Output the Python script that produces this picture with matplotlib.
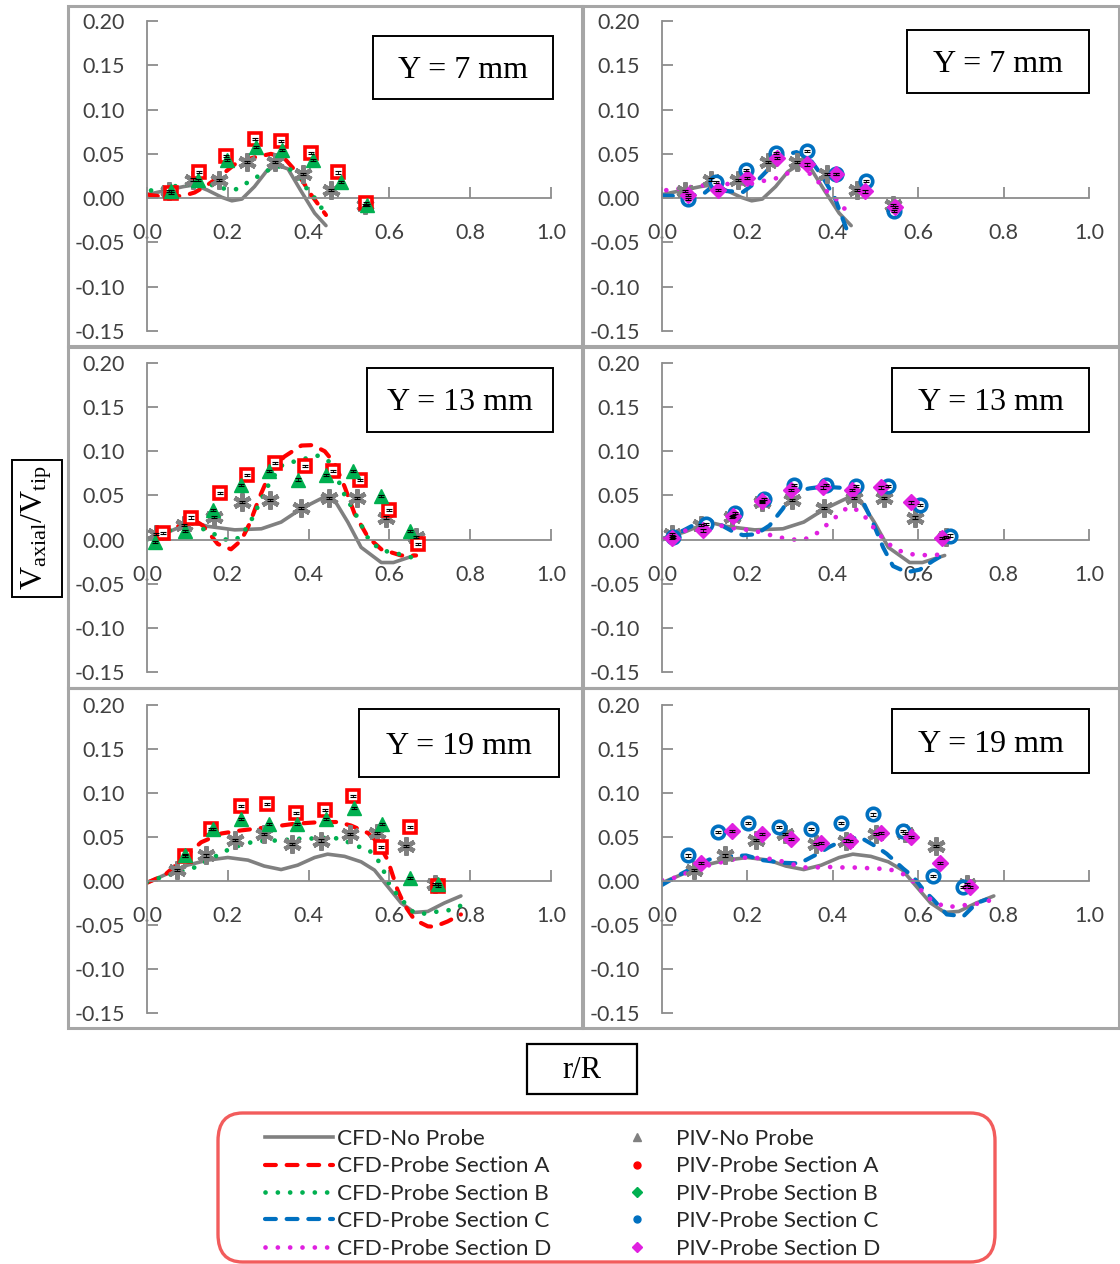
import matplotlib
matplotlib.use("Agg")
import matplotlib.pyplot as plt
from matplotlib.lines import Line2D
from matplotlib.patches import Rectangle, FancyBboxPatch

plt.rcParams['font.family'] = ['Lato', 'DejaVu Sans']
plt.rcParams['mathtext.fontset'] = 'custom'
plt.rcParams['mathtext.rm'] = 'Liberation Serif'
plt.rcParams['mathtext.it'] = 'Liberation Serif:italic'

# ---------------- data: r/R and V_axial/V_tip ----------------
# Y = 7 mm
Y7_CFD_NP_R = [0.0, 0.05, 0.09, 0.118, 0.15, 0.185, 0.21, 0.235, 0.266, 0.295, 0.32, 0.349, 0.38, 0.415, 0.443]
Y7_CFD_NP_V = [0.004, 0.009, 0.013, 0.015, 0.009, 0.001, -0.003, -0.001, 0.013, 0.030, 0.0376, 0.033, 0.009, -0.017, -0.031]
Y7_CFD_A_R = [0.0, 0.05, 0.093, 0.118, 0.15, 0.184, 0.225, 0.266, 0.307, 0.34, 0.373, 0.406, 0.443]
Y7_CFD_A_V = [0.004, 0.001, 0.003, 0.0064, 0.015, 0.026, 0.041, 0.046, 0.050, 0.045, 0.028, 0.004, -0.019]
Y7_CFD_B_R = [0.01, 0.05, 0.089, 0.126, 0.159, 0.188, 0.22, 0.254, 0.287, 0.316, 0.349, 0.373, 0.398, 0.423, 0.443]
Y7_CFD_B_V = [0.0087, 0.012, 0.015, 0.017, 0.015, 0.011, 0.010, 0.019, 0.028, 0.036, 0.035, 0.024, 0.0094, -0.004, -0.020]
Y7_CFD_C_R = [0.0, 0.06, 0.10, 0.125, 0.15, 0.19, 0.22, 0.25, 0.28, 0.315, 0.345, 0.375, 0.405, 0.44]
Y7_CFD_C_V = [0.003, 0.002, 0.006, 0.016, 0.008, 0.007, 0.018, 0.033, 0.048, 0.052, 0.045, 0.025, 0.0, -0.045]
Y7_CFD_D_R = [0.01, 0.06, 0.12, 0.17, 0.20, 0.23, 0.26, 0.29, 0.315, 0.34, 0.36, 0.38, 0.41, 0.44]
Y7_CFD_D_V = [0.009, 0.012, 0.016, 0.016, 0.015, 0.019, 0.021, 0.027, 0.033, 0.030, 0.022, 0.010, -0.002, -0.019]

Y7_PIV_NP_R = [0.055, 0.115, 0.177, 0.248, 0.316, 0.386, 0.456, 0.54]
Y7_PIV_NP_V = [0.008, 0.021, 0.020, 0.041, 0.041, 0.027, 0.009, -0.008]
Y7_PIV_A_R = [0.06, 0.128, 0.196, 0.268, 0.332, 0.405, 0.472, 0.542]
Y7_PIV_A_V = [0.006, 0.030, 0.048, 0.067, 0.065, 0.051, 0.029, -0.006]
Y7_PIV_B_R = [0.06, 0.125, 0.197, 0.27, 0.335, 0.41, 0.48, 0.545]
Y7_PIV_B_V = [0.008, 0.020, 0.043, 0.058, 0.054, 0.043, 0.018, -0.0075]
Y7_PIV_C_R = [0.06, 0.126, 0.197, 0.267, 0.339, 0.407, 0.478, 0.544]
Y7_PIV_C_V = [-0.001, 0.018, 0.032, 0.051, 0.053, 0.027, 0.0196, -0.015]
Y7_PIV_D_R = [0.06, 0.13, 0.199, 0.269, 0.34, 0.407, 0.476, 0.546]
Y7_PIV_D_V = [0.004, 0.0087, 0.0226, 0.045, 0.038, 0.0275, 0.0075, -0.010]

# Y = 13 mm
Y13_CFD_NP_R = [0.0, 0.052, 0.11, 0.15, 0.217, 0.283, 0.332, 0.382, 0.44, 0.464, 0.497, 0.53, 0.58, 0.61, 0.662]
Y13_CFD_NP_V = [0.001, 0.0084, 0.0198, 0.015, 0.011, 0.0122, 0.0198, 0.035, 0.0485, 0.0447, 0.0198, -0.0088, -0.026, -0.026, -0.018]
Y13_CFD_A_R = [0.027, 0.077, 0.11, 0.138, 0.175, 0.208, 0.233, 0.254, 0.279, 0.308, 0.34, 0.382, 0.41, 0.44, 0.464, 0.489, 0.514, 0.547, 0.58, 0.629, 0.666]
Y13_CFD_A_V = [0.0065, 0.015, 0.024, 0.016, -0.005, -0.011, -0.001, 0.018, 0.0485, 0.079, 0.094, 0.1065, 0.107, 0.100, 0.0866, 0.060, 0.029, 0.0027, -0.011, -0.018, -0.018]
Y13_CFD_B_R = [0.0, 0.027, 0.06, 0.105, 0.134, 0.167, 0.20, 0.229, 0.254, 0.274, 0.303, 0.332, 0.365, 0.394, 0.423, 0.456, 0.485, 0.514, 0.55, 0.58, 0.617, 0.662]
Y13_CFD_B_V = [0.0, 0.005, 0.011, 0.020, 0.013, 0.006, -0.001, 0.002, 0.018, 0.037, 0.064, 0.0836, 0.0885, 0.092, 0.095, 0.087, 0.054, 0.031, -0.001, -0.012, -0.0156, -0.021]
Y13_CFD_C_R = [0.0, 0.05, 0.088, 0.11, 0.14, 0.17, 0.19, 0.22, 0.252, 0.283, 0.307, 0.346, 0.377, 0.408, 0.44, 0.467, 0.495, 0.518, 0.541, 0.573, 0.604, 0.635, 0.663]
Y13_CFD_C_V = [0.0, 0.0103, 0.020, 0.022, 0.016, 0.008, 0.005, 0.006, 0.016, 0.035, 0.054, 0.058, 0.060, 0.059, 0.058, 0.0466, 0.018, -0.009, -0.030, -0.037, -0.034, -0.024, -0.016]
Y13_CFD_D_R = [0.0, 0.05, 0.095, 0.135, 0.166, 0.213, 0.244, 0.27, 0.30, 0.322, 0.35, 0.373, 0.393, 0.416, 0.436, 0.46, 0.479, 0.498, 0.518, 0.541, 0.565, 0.596, 0.635, 0.667]
Y13_CFD_D_V = [0.001, 0.0095, 0.015, 0.016, 0.013, 0.0103, 0.0065, 0.0027, 0.0008, -0.001, 0.0027, 0.011, 0.020, 0.029, 0.037, 0.033, 0.024, 0.012, 0.001, -0.009, -0.0145, -0.0176, -0.0176, -0.0164]

Y13_PIV_NP_R = [0.023, 0.092, 0.165, 0.235, 0.305, 0.38, 0.45, 0.52, 0.592, 0.665]
Y13_PIV_NP_V = [0.006, 0.017, 0.026, 0.043, 0.045, 0.036, 0.047, 0.047, 0.025, 0.003]
Y13_PIV_A_R = [0.04, 0.11, 0.18, 0.248, 0.316, 0.39, 0.46, 0.528, 0.598, 0.67]
Y13_PIV_A_V = [0.007, 0.025, 0.053, 0.073, 0.087, 0.083, 0.078, 0.0675, 0.033, -0.005]
Y13_PIV_B_R = [0.02, 0.093, 0.163, 0.232, 0.303, 0.373, 0.443, 0.51, 0.58, 0.65]
Y13_PIV_B_V = [-0.003, 0.0095, 0.033, 0.062, 0.078, 0.068, 0.073, 0.078, 0.0496, 0.0095]
Y13_PIV_C_R = [0.025, 0.102, 0.17, 0.24, 0.31, 0.383, 0.455, 0.53, 0.604, 0.674]
Y13_PIV_C_V = [0.003, 0.018, 0.030, 0.046, 0.062, 0.062, 0.061, 0.061, 0.039, 0.0046]
Y13_PIV_D_R = [0.023, 0.095, 0.166, 0.234, 0.303, 0.377, 0.446, 0.514, 0.583, 0.655]
Y13_PIV_D_V = [0.002, 0.0103, 0.0263, 0.044, 0.056, 0.059, 0.056, 0.059, 0.042, 0.002]

# Y = 19 mm
Y19_CFD_NP_R = [0.0, 0.052, 0.10, 0.15, 0.20, 0.25, 0.29, 0.332, 0.373, 0.415, 0.447, 0.489, 0.53, 0.563, 0.596, 0.629, 0.662, 0.695, 0.736, 0.777]
Y19_CFD_NP_V = [-0.002, 0.0086, 0.018, 0.0237, 0.0267, 0.0237, 0.017, 0.013, 0.018, 0.0267, 0.0305, 0.028, 0.0218, 0.0124, -0.0064, -0.025, -0.0357, -0.0346, -0.025, -0.017]
Y19_CFD_A_R = [0.0, 0.044, 0.085, 0.134, 0.184, 0.233, 0.299, 0.365, 0.431, 0.472, 0.505, 0.547, 0.571, 0.596, 0.62, 0.637, 0.662, 0.695, 0.711, 0.744, 0.777]
Y19_CFD_A_V = [-0.002, 0.0068, 0.0237, 0.044, 0.054, 0.0575, 0.061, 0.065, 0.067, 0.067, 0.063, 0.0545, 0.044, 0.0237, -0.010, -0.027, -0.044, -0.0515, -0.052, -0.046, -0.038]
Y19_CFD_B_R = [0.0, 0.035, 0.089, 0.118, 0.151, 0.184, 0.217, 0.258, 0.299, 0.332, 0.365, 0.398, 0.431, 0.464, 0.489, 0.514, 0.55, 0.578, 0.60, 0.62, 0.64, 0.66, 0.686, 0.715, 0.75, 0.777]
Y19_CFD_B_V = [-0.001, 0.004, 0.0117, 0.0154, 0.023, 0.032, 0.0387, 0.044, 0.046, 0.046, 0.048, 0.048, 0.049, 0.049, 0.046, 0.0406, 0.035, 0.020, -0.004, -0.016, -0.026, -0.036, -0.037, -0.035, -0.033, -0.028]
Y19_CFD_C_R = [0.0, 0.04, 0.08, 0.111, 0.15, 0.197, 0.236, 0.283, 0.322, 0.365, 0.393, 0.424, 0.463, 0.502, 0.526, 0.565, 0.588, 0.612, 0.635, 0.667, 0.706, 0.737, 0.76]
Y19_CFD_C_V = [-0.0045, 0.0068, 0.017, 0.0244, 0.028, 0.029, 0.0237, 0.0207, 0.020, 0.031, 0.039, 0.046, 0.050, 0.039, 0.031, 0.014, 0.005, -0.010, -0.021, -0.038, -0.040, -0.025, -0.021]
Y19_CFD_D_R = [0.0, 0.033, 0.064, 0.111, 0.158, 0.197, 0.248, 0.279, 0.307, 0.334, 0.361, 0.389, 0.416, 0.444, 0.471, 0.498, 0.526, 0.553, 0.577, 0.596, 0.62, 0.643, 0.667, 0.694, 0.721, 0.749, 0.768]
Y19_CFD_D_V = [0.001, 0.004, 0.0105, 0.018, 0.0237, 0.0267, 0.0256, 0.0226, 0.0188, 0.0154, 0.0154, 0.016, 0.0154, 0.0154, 0.015, 0.014, 0.014, 0.0105, 0.005, -0.0045, -0.0177, -0.025, -0.030, -0.028, -0.027, -0.025, -0.022]

Y19_PIV_NP_R = [0.075, 0.147, 0.219, 0.289, 0.36, 0.43, 0.502, 0.57, 0.642, 0.714]
Y19_PIV_NP_V = [0.012, 0.029, 0.047, 0.053, 0.0425, 0.046, 0.053, 0.055, 0.040, -0.0035]
Y19_PIV_A_R = [0.093, 0.159, 0.232, 0.298, 0.369, 0.44, 0.509, 0.58, 0.65, 0.72]
Y19_PIV_A_V = [0.028, 0.059, 0.0857, 0.088, 0.077, 0.081, 0.097, 0.0387, 0.061, -0.0056]
Y19_PIV_B_R = [0.093, 0.163, 0.233, 0.303, 0.372, 0.443, 0.513, 0.581, 0.65, 0.72]
Y19_PIV_B_V = [0.029, 0.059, 0.0707, 0.065, 0.065, 0.0707, 0.083, 0.065, 0.003, -0.0034]
Y19_PIV_C_R = [0.06, 0.131, 0.201, 0.275, 0.35, 0.42, 0.493, 0.565, 0.635, 0.706]
Y19_PIV_C_V = [0.029, 0.0556, 0.0658, 0.0613, 0.0586, 0.0658, 0.0756, 0.0564, 0.006, -0.0064]
Y19_PIV_D_R = [0.0915, 0.164, 0.234, 0.303, 0.372, 0.44, 0.513, 0.583, 0.651, 0.721]
Y19_PIV_D_V = [0.020, 0.0568, 0.053, 0.0474, 0.0432, 0.0455, 0.0549, 0.050, 0.0207, -0.0071]

PIV_ERR = 0.0012

ROW_TITLES = ["Y = 7 mm", "Y = 13 mm", "Y = 19 mm"]
X_TICKS = [0.0, 0.2, 0.4, 0.6, 0.8, 1.0]
Y_TICKS = [-0.15, -0.10, -0.05, 0.00, 0.05, 0.10, 0.15, 0.20]
LEGEND_LABELS = ["CFD-No Probe", "CFD-Probe Section A", "CFD-Probe Section B",
                 "CFD-Probe Section C", "CFD-Probe Section D",
                 "PIV-No Probe", "PIV-Probe Section A", "PIV-Probe Section B",
                 "PIV-Probe Section C", "PIV-Probe Section D"]

# ---------------- styles ----------------
GRAY = '#808080'
RED = '#ff0000'
GREEN = '#00b050'
BLUE = '#0070c0'
MAGENTA = '#e020e0'
AXIS_C = '#8c8c8c'
TEXT_C = '#404040'

W, H = 1120, 1264
fig = plt.figure(figsize=(W / 100, H / 100), dpi=100)


def fx(x):
    return x / W


def fy(y):
    return 1 - y / H


def cfd_solid(ax, r, v):
    ax.plot(r, v, color=GRAY, lw=2.6, solid_capstyle='round', zorder=2)


def cfd_dashed(ax, r, v, c):
    ax.plot(r, v, color=c, lw=3.0, dashes=(2.6, 2.6), dash_capstyle='round', zorder=2)


def cfd_dotted(ax, r, v, c):
    ax.plot(r, v, color=c, lw=3.4, dashes=(0.01, 2.6), dash_capstyle='round', zorder=2)


def piv(ax, r, v, **kw):
    ax.plot(r, v, ls='none', zorder=4, **kw)
    ax.errorbar(r, v, yerr=PIV_ERR, fmt='none', ecolor='black', elinewidth=0.6,
                capsize=2.5, capthick=0.8, zorder=5)


NP_STYLE = dict(marker=(6, 2, 0), ms=13, mew=3.2, color=GRAY)
A_STYLE = dict(marker='s', ms=8.5, mfc='white', mec=RED, mew=2.6)
B_STYLE = dict(marker='^', ms=10, color=GREEN)
C_STYLE = dict(marker='o', ms=9, mfc='white', mec=BLUE, mew=2.6)
D_STYLE = dict(marker='D', ms=8.5, color=MAGENTA)


def style_axes(ax):
    ax.set_xlim(0, 1.0)
    ax.set_ylim(-0.15, 0.20)
    ax.patch.set_alpha(0)
    for s in ('top', 'right'):
        ax.spines[s].set_visible(False)
    ax.spines['bottom'].set_position(('data', 0))
    for s in ('left', 'bottom'):
        ax.spines[s].set_color(AXIS_C)
        ax.spines[s].set_linewidth(1.3)
    ax.set_xticks(X_TICKS)
    ax.set_xticklabels([f"{t:.1f}" for t in X_TICKS])
    ax.set_yticks(Y_TICKS)
    ax.set_yticklabels([f"{t:.2f}" for t in Y_TICKS])
    ax.tick_params(direction='in', length=8, width=1.3, color=AXIS_C,
                   labelsize=15.5, labelcolor=TEXT_C)
    ax.tick_params(axis='x', pad=18)
    ax.tick_params(axis='y', pad=16)


# pixel geometry of the grid
COL_X = [(147, 551), (662, 1089)]
ROW_Y = [(21, 331), (363, 672), (705, 1013)]
FRAME_X = [(68, 582), (583, 1119)]
FRAME_Y = [(6, 346), (347, 688), (688, 1028)]
TITLE_BOX = [[(373, 36, 553, 99), (907, 30, 1089, 93)],
             [(367, 368, 553, 432), (892, 368, 1089, 432)],
             [(359, 709, 559, 777), (892, 709, 1089, 773)]]

rows = [
    (Y7_CFD_NP_R, Y7_CFD_NP_V, Y7_CFD_A_R, Y7_CFD_A_V, Y7_CFD_B_R, Y7_CFD_B_V,
     Y7_CFD_C_R, Y7_CFD_C_V, Y7_CFD_D_R, Y7_CFD_D_V,
     Y7_PIV_NP_R, Y7_PIV_NP_V, Y7_PIV_A_R, Y7_PIV_A_V, Y7_PIV_B_R, Y7_PIV_B_V,
     Y7_PIV_C_R, Y7_PIV_C_V, Y7_PIV_D_R, Y7_PIV_D_V),
    (Y13_CFD_NP_R, Y13_CFD_NP_V, Y13_CFD_A_R, Y13_CFD_A_V, Y13_CFD_B_R, Y13_CFD_B_V,
     Y13_CFD_C_R, Y13_CFD_C_V, Y13_CFD_D_R, Y13_CFD_D_V,
     Y13_PIV_NP_R, Y13_PIV_NP_V, Y13_PIV_A_R, Y13_PIV_A_V, Y13_PIV_B_R, Y13_PIV_B_V,
     Y13_PIV_C_R, Y13_PIV_C_V, Y13_PIV_D_R, Y13_PIV_D_V),
    (Y19_CFD_NP_R, Y19_CFD_NP_V, Y19_CFD_A_R, Y19_CFD_A_V, Y19_CFD_B_R, Y19_CFD_B_V,
     Y19_CFD_C_R, Y19_CFD_C_V, Y19_CFD_D_R, Y19_CFD_D_V,
     Y19_PIV_NP_R, Y19_PIV_NP_V, Y19_PIV_A_R, Y19_PIV_A_V, Y19_PIV_B_R, Y19_PIV_B_V,
     Y19_PIV_C_R, Y19_PIV_C_V, Y19_PIV_D_R, Y19_PIV_D_V),
]

for i, data in enumerate(rows):
    (np_r, np_v, a_r, a_v, b_r, b_v, c_r, c_v, d_r, d_v,
     pnp_r, pnp_v, pa_r, pa_v, pb_r, pb_v, pc_r, pc_v, pd_r, pd_v) = data
    for j in range(2):
        # outer panel frame
        x0, x1 = FRAME_X[j]
        y0, y1 = FRAME_Y[i]
        fig.add_artist(Rectangle((fx(x0), fy(y1)), fx(x1 - x0), (y1 - y0) / H,
                                 transform=fig.transFigure, fill=False,
                                 edgecolor='#a6a6a6', lw=2.2, zorder=0))
        ax0, ax1 = COL_X[j]
        ay0, ay1 = ROW_Y[i]
        ax = fig.add_axes([fx(ax0), fy(ay1), (ax1 - ax0) / W, (ay1 - ay0) / H])
        style_axes(ax)
        cfd_solid(ax, np_r, np_v)
        if j == 0:
            cfd_dashed(ax, a_r, a_v, RED)
            cfd_dotted(ax, b_r, b_v, GREEN)
            piv(ax, pnp_r, pnp_v, **NP_STYLE)
            piv(ax, pa_r, pa_v, **A_STYLE)
            piv(ax, pb_r, pb_v, **B_STYLE)
        else:
            cfd_dashed(ax, c_r, c_v, BLUE)
            cfd_dotted(ax, d_r, d_v, MAGENTA)
            piv(ax, pnp_r, pnp_v, **NP_STYLE)
            piv(ax, pc_r, pc_v, **C_STYLE)
            piv(ax, pd_r, pd_v, **D_STYLE)
        # boxed section title
        bx0, by0, bx1, by1 = TITLE_BOX[i][j]
        fig.add_artist(Rectangle((fx(bx0), fy(by1)), fx(bx1 - bx0), (by1 - by0) / H,
                                 transform=fig.transFigure, facecolor='white',
                                 edgecolor='black', lw=1.4, zorder=6))
        fig.text(fx((bx0 + bx1) / 2), fy((by0 + by1) / 2 + 3), ROW_TITLES[i],
                 ha='center', va='center', fontsize=23, family='Liberation Serif',
                 color='black', zorder=7)

# shared axis titles in boxes
fig.add_artist(Rectangle((fx(12), fy(597)), fx(50), 137 / H, transform=fig.transFigure,
                         fill=False, edgecolor='black', lw=1.4))
fig.text(fx(37), fy(528), r'$\mathrm{V_{axial}/V_{tip}}$', rotation=90,
         ha='center', va='center', fontsize=23, color='black')
fig.add_artist(Rectangle((fx(527), fy(1094)), fx(110), 50 / H, transform=fig.transFigure,
                         fill=False, edgecolor='black', lw=1.6))
fig.text(fx(582), fy(1071), 'r/R', ha='center', va='center', fontsize=22,
         family='Liberation Serif', color='black')

# legend
fig.add_artist(FancyBboxPatch((fx(218), fy(1262)), fx(777), 149 / H,
                              boxstyle='round,pad=0,rounding_size=0.022',
                              transform=fig.transFigure, facecolor='white',
                              edgecolor='#f25c5c', lw=2.4, zorder=0))
handles = [
    Line2D([], [], color=GRAY, lw=2.6),
    Line2D([], [], color=RED, lw=3.0, dashes=(2.6, 2.6), dash_capstyle='round'),
    Line2D([], [], color=GREEN, lw=3.4, dashes=(0.01, 2.6), dash_capstyle='round'),
    Line2D([], [], color=BLUE, lw=3.0, dashes=(2.6, 2.6), dash_capstyle='round'),
    Line2D([], [], color=MAGENTA, lw=3.4, dashes=(0.01, 2.6), dash_capstyle='round'),
    Line2D([], [], ls='none', marker='^', ms=6, color=GRAY),
    Line2D([], [], ls='none', marker='o', ms=5, color=RED),
    Line2D([], [], ls='none', marker='D', ms=5, color=GREEN),
    Line2D([], [], ls='none', marker='o', ms=5, color=BLUE),
    Line2D([], [], ls='none', marker='D', ms=5, color=MAGENTA),
]
fig.legend(handles, LEGEND_LABELS, ncol=2, loc='upper left',
           bbox_to_anchor=(fx(265), fy(1129)), frameon=False, fontsize=16.2,
           handlelength=3.0, handletextpad=0.22, columnspacing=2.3,
           labelspacing=0.33, borderpad=0, borderaxespad=0, labelcolor='#262626')

fig.savefig('out.png', dpi=100)
